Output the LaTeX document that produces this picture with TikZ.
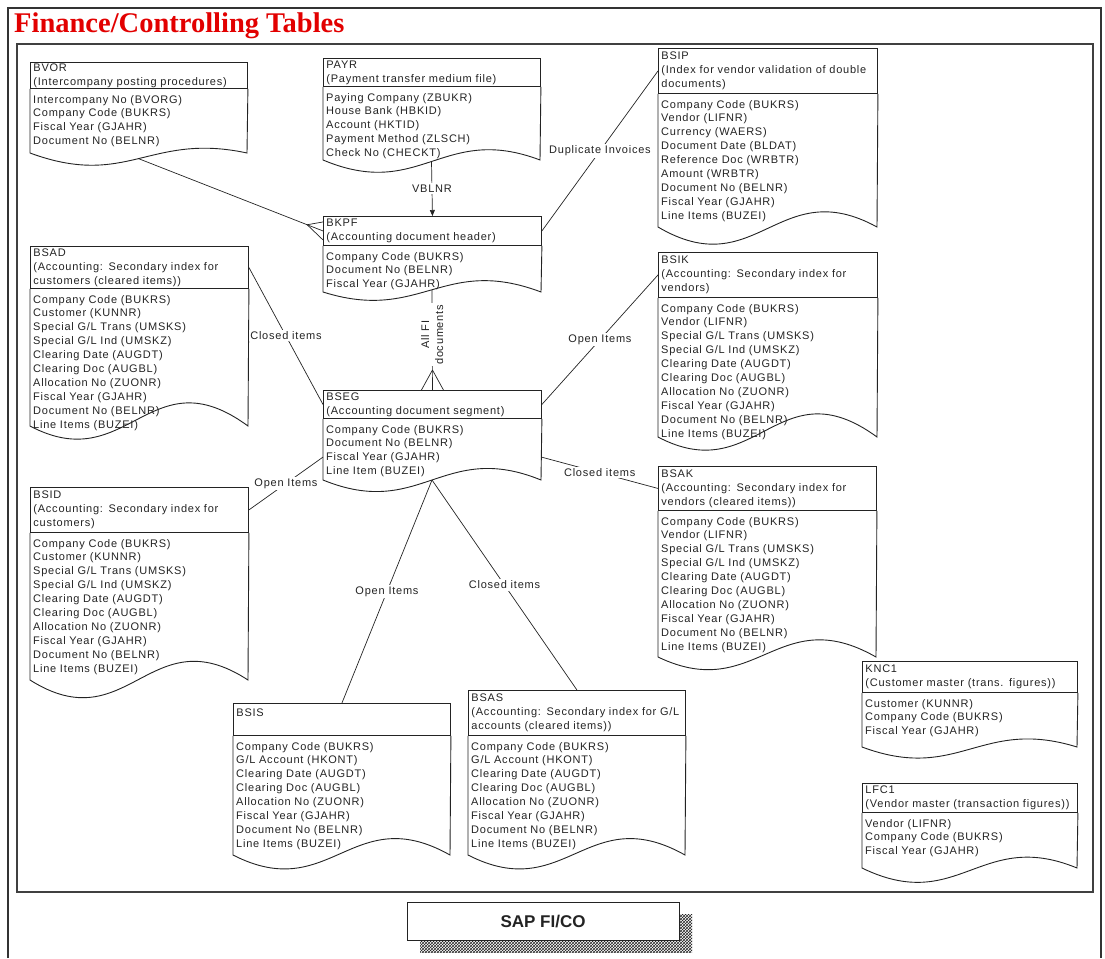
\documentclass[tikz,border=0pt]{standalone}
\usepackage{fontspec}
\setmainfont{Liberation Sans}
\newfontfamily\tblfont[LetterSpace=7]{Liberation Sans}
\newfontfamily\titlefont{Liberation Serif}
\usetikzlibrary{calc,arrows.meta,patterns}
\definecolor{titlered}{RGB}{226,0,0}
\definecolor{ink}{RGB}{35,35,35}

\tikzset{
  tline/.style={draw=ink, line width=0.9pt},
  tfont/.style={font=\tblfont\fontsize{11}{13.9}\selectfont, text=ink},
  hdr/.style={tline, tfont, rectangle, anchor=north west, inner xsep=3pt, inner ysep=0pt, align=left},
  fld/.style={tfont, rectangle, anchor=north west, inner xsep=3pt, inner ysep=0pt, align=left},
  conn/.style={draw=ink, line width=0.7pt},
  lbl/.style={tfont, fill=white, inner sep=1.5pt},
}

% table header box: name, left, top, right, rule, header lines
\newcommand\tblhead[6]{%
  \pgfmathsetmacro\tblw{#4-#2}%
  \pgfmathsetmacro\tblh{#5-#3}%
  \pgfmathsetmacro\tbltw{#4-#2-6}%
  \node[hdr, minimum width=\tblw pt, minimum height=\tblh pt, text width=\tbltw pt] (#1) at (#2,#3) {#6};}

% table body with wavy "document" bottom: name, left, right, bottom, dip, rise, fields
\newcommand\tblbody[7]{%
  \pgfmathsetmacro\tbltw{#3-#2-6}%
  \node[fld, text width=\tbltw pt] (#1-f) at ([yshift=-6pt]#1.south west) {#7};
  \draw[tline] (#1.south west) -- (#2,#4)
    .. controls ({#2+0.45*(#3-#2)},{#4+#5}) and ({#2+0.55*(#3-#2)},{#4-#6}) ..
    coordinate[pos=0.5] (#1-mid) (#3,#4) -- (#1.south east);}

\begin{document}
\begin{tikzpicture}[x=1pt, y=-1pt]
\useasboundingbox (0,0) rectangle (1105,958);

% frames
\draw[line width=2pt, black!80] (8,958) -- (8,8) -- (1101,8) -- (1101,958);
\draw[line width=1.2pt, black!75] (17,44) rectangle (1093,892);

\node[anchor=base west, inner sep=0, text=titlered,
      font=\titlefont\bfseries\fontsize{28.5}{30}\selectfont] (title) at (14,33)
      {Finance/Controlling Tables};

% ---------- tables ----------
\tblhead{bvor}{30}{62}{247}{88}{BVOR\\(Intercompany posting procedures)}
\tblbody{bvor}{30}{247}{153}{36}{21}{Intercompany No (BVORG)\\Company Code (BUKRS)\\Fiscal Year (GJAHR)\\Document No (BELNR)}

\tblhead{payr}{323}{58}{540}{86}{PAYR\\(Payment transfer medium file)}
\tblbody{payr}{323}{540}{160}{41}{37}{Paying Company (ZBUKR)\\House Bank (HBKID)\\Account (HKTID)\\Payment Method (ZLSCH)\\Check No (CHECKT)}

\tblhead{bsip}{658}{48}{877}{93}{BSIP\\\mbox{(Index for vendor validation of double}\\documents)}
\tblbody{bsip}{658}{877}{227}{58}{54}{Company Code (BUKRS)\\Vendor (LIFNR)\\Currency (WAERS)\\Document Date (BLDAT)\\Reference Doc (WRBTR)\\Amount (WRBTR)\\Document No (BELNR)\\Fiscal Year (GJAHR)\\Line Items (BUZEI)}

\tblhead{bkpf}{323}{216}{541}{245}{BKPF\\(Accounting document header)}
\tblbody{bkpf}{323}{541}{292}{31}{37}{Company Code (BUKRS)\\Document No (BELNR)\\Fiscal Year (GJAHR)}

\tblhead{bseg}{323}{390}{541}{418}{BSEG\\(Accounting document segment)}
\tblbody{bseg}{323}{541}{480}{40}{40}{Company Code (BUKRS)\\Document No (BELNR)\\Fiscal Year (GJAHR)\\Line Item (BUZEI)}

\tblhead{bsad}{30}{246}{248}{288}{BSAD\\(Accounting: Secondary index for\\customers (cleared items))}
\tblbody{bsad}{30}{248}{426}{52}{72}{Company Code (BUKRS)\\Customer (KUNNR)\\Special G/L Trans (UMSKS)\\Special G/L Ind (UMSKZ)\\Clearing Date (AUGDT)\\Clearing Doc (AUGBL)\\Allocation No (ZUONR)\\Fiscal Year (GJAHR)\\Document No (BELNR)\\Line Items (BUZEI)}

\tblhead{bsik}{658}{252}{877}{297}{BSIK\\(Accounting: Secondary index for\\vendors)}
\tblbody{bsik}{658}{877}{437}{52}{72}{Company Code (BUKRS)\\Vendor (LIFNR)\\Special G/L Trans (UMSKS)\\Special G/L Ind (UMSKZ)\\Clearing Date (AUGDT)\\Clearing Doc (AUGBL)\\Allocation No (ZUONR)\\Fiscal Year (GJAHR)\\Document No (BELNR)\\Line Items (BUZEI)}

\tblhead{bsid}{30}{487}{248}{532}{BSID\\(Accounting: Secondary index for\\customers)}
\tblbody{bsid}{30}{248}{680}{62}{64}{Company Code (BUKRS)\\Customer (KUNNR)\\Special G/L Trans (UMSKS)\\Special G/L Ind (UMSKZ)\\Clearing Date (AUGDT)\\Clearing Doc (AUGBL)\\Allocation No (ZUONR)\\Fiscal Year (GJAHR)\\Document No (BELNR)\\Line Items (BUZEI)}

\tblhead{bsak}{658}{466}{876}{510}{BSAK\\(Accounting: Secondary index for\\vendors (cleared items))}
\tblbody{bsak}{658}{876}{657}{47}{56}{Company Code (BUKRS)\\Vendor (LIFNR)\\Special G/L Trans (UMSKS)\\Special G/L Ind (UMSKZ)\\Clearing Date (AUGDT)\\Clearing Doc (AUGBL)\\Allocation No (ZUONR)\\Fiscal Year (GJAHR)\\Document No (BELNR)\\Line Items (BUZEI)}

\tblhead{bsis}{233}{703}{450}{735}{BSIS\\\mbox{}}
\tblbody{bsis}{233}{450}{855}{50}{55}{Company Code (BUKRS)\\G/L Account (HKONT)\\Clearing Date (AUGDT)\\Clearing Doc (AUGBL)\\Allocation No (ZUONR)\\Fiscal Year (GJAHR)\\Document No (BELNR)\\Line Items (BUZEI)}

\tblhead{bsas}{468}{690}{685}{735}{BSAS\\\mbox{(Accounting: Secondary index for G/L}\\accounts (cleared items))}
\tblbody{bsas}{468}{685}{855}{50}{55}{Company Code (BUKRS)\\G/L Account (HKONT)\\Clearing Date (AUGDT)\\Clearing Doc (AUGBL)\\Allocation No (ZUONR)\\Fiscal Year (GJAHR)\\Document No (BELNR)\\Line Items (BUZEI)}

\tblhead{knc1}{862}{661}{1077}{692}{KNC1\\\mbox{(Customer master (trans. figures))}}
\tblbody{knc1}{862}{1077}{747}{36}{30}{Customer (KUNNR)\\Company Code (BUKRS)\\Fiscal Year (GJAHR)}

\tblhead{lfc1}{862}{783}{1077}{812}{LFC1\\\mbox{(Vendor master (transaction figures))}}
\tblbody{lfc1}{862}{1077}{868}{47}{40}{Vendor (LIFNR)\\Company Code (BUKRS)\\Fiscal Year (GJAHR)}

% ---------- relationships ----------
\draw[conn] (bvor-mid) -- (bkpf.west);
\coordinate (bkpf-foot) at ($(bkpf.west)!17pt!(bvor-mid)$);
\draw[conn] (bkpf-foot) -- ([yshift=9pt]bkpf.west) (bkpf-foot) -- ([yshift=-9pt]bkpf.west);

\draw[conn, -{Triangle[length=6pt,width=5pt]}] (payr-mid) -- node[lbl] {VBLNR} (bkpf.north);

\draw[conn] (bkpf.east) -- node[lbl] {Duplicate Invoices} (bsip.west);

\draw[conn] (bkpf-mid) -- node[lbl, rotate=90, align=center, pos=0.45] {All FI\\documents} (bseg.north);
\draw[conn] ([yshift=20pt]bseg.north) -- ([xshift=-11pt]bseg.north)
            ([yshift=20pt]bseg.north) -- ([xshift=11pt]bseg.north);

\draw[conn] (bsad.east) -- node[lbl] {Closed items} (bseg.west);
\draw[conn] (bsik.west) -- node[lbl] {Open Items} (bseg.east);
\draw[conn] (bsid.east) -- node[lbl] {Open Items} ([yshift=-6pt]bseg-f.west);
\draw[conn] ([yshift=-6pt]bseg-f.east) -- node[lbl] {Closed items} (bsak.west);
\draw[conn] (bseg-mid) -- node[lbl] {Open Items} (bsis.north);
\draw[conn] (bseg-mid) -- node[lbl] {Closed items} (bsas.north);

% ---------- footer badge ----------
\fill[pattern=crosshatch, pattern color=black!85] (420,914) rectangle (692,952);
\node[draw=ink, line width=0.9pt, fill=white, minimum width=272pt, minimum height=38pt,
      font=\fontsize{17}{20}\selectfont\bfseries, text=ink] (sap) at (543,921) {SAP FI/CO};
\end{tikzpicture}
\end{document}
